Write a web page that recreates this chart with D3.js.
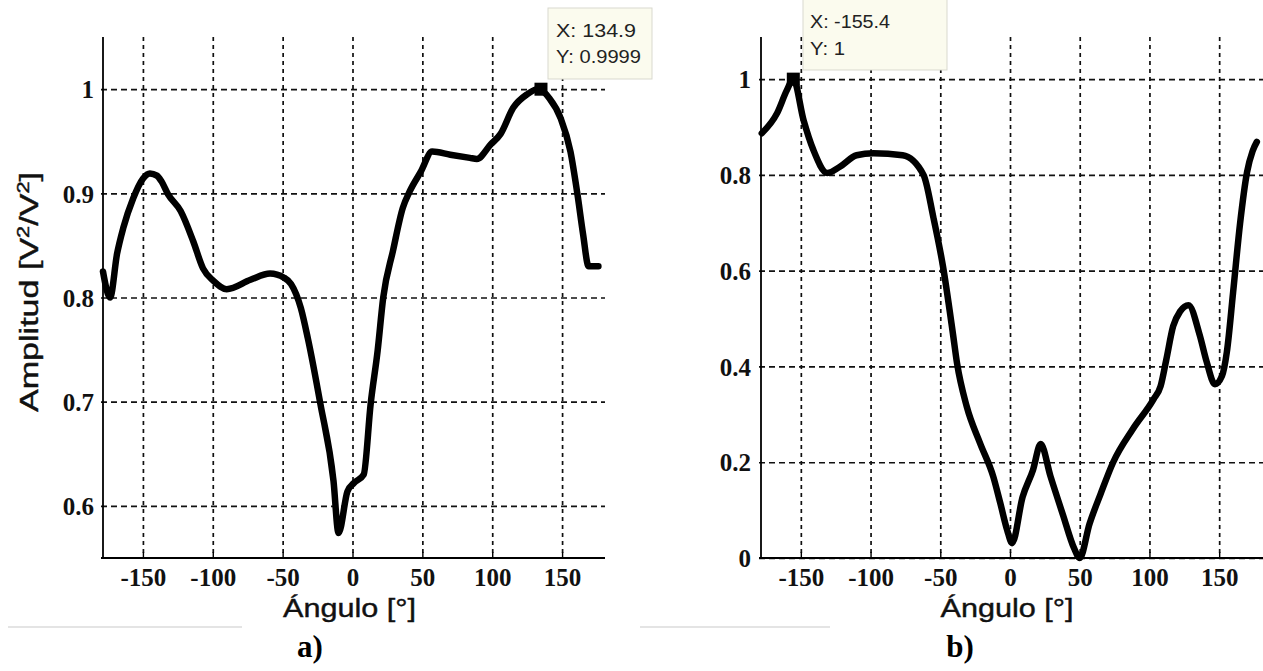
<!DOCTYPE html>
<html><head><meta charset="utf-8">
<script src="https://cdn.jsdelivr.net/npm/d3@7"></script>
<style>body{margin:0;background:#fff}svg{display:block}</style>
</head><body><svg id="c" width="1263" height="671"></svg>
<script>
// ---- data ----
const xTicks = [-150, -100, -50, 0, 50, 100, 150];
const aYTicks = [0.6, 0.7, 0.8, 0.9, 1];
const bYTicks = [0, 0.2, 0.4, 0.6, 0.8, 1];
const aAngles = [-178.6,-173.5,-168.5,-164,-157,-150,-145,-140,-137,-132,-123,-114,-107,-99.5,-90,-73,-59,-49,-44,-37,-32,-23,-13.6,-10,-3.6,1,8,13,18,22,29,36,41,49,57,70,84,89,99,106,115,125,133,141,149,156,161,165,169,176];
const aValues = [0.825,0.80,0.842,0.867,0.895,0.914,0.919,0.917,0.912,0.899,0.883,0.854,0.828,0.816,0.808,0.817,0.823,0.819,0.813,0.79,0.761,0.698,0.624,0.574,0.614,0.622,0.63,0.698,0.749,0.80,0.845,0.886,0.902,0.921,0.94,0.937,0.934,0.933,0.947,0.957,0.982,0.995,1.0,0.991,0.972,0.94,0.899,0.861,0.83,0.83];
const bAngles = [-178,-167,-160,-155.4,-148,-141,-131,-122,-110,-98,-77,-62,-55,-48,-41,-38,-31,-21.5,-12,-7,-2,1.5,9,16.5,22,29,38,46,50,57,65,74,88,103,108,112,117,122,128,136,141,147,152,155.5,160,165,170,174,177];
const bValues = [0.887,0.929,0.977,1.0,0.914,0.852,0.804,0.817,0.841,0.845,0.841,0.80,0.712,0.608,0.47,0.407,0.316,0.24,0.17,0.115,0.058,0.031,0.127,0.184,0.238,0.171,0.09,0.02,0.0,0.071,0.134,0.2,0.269,0.332,0.359,0.413,0.484,0.515,0.528,0.466,0.41,0.363,0.38,0.43,0.555,0.699,0.806,0.85,0.869];
const aTipX = 134.9, aTipY = 0.9999;
const bTipX = -155.4, bTipY = 1;
const aTipLabels = ["X: 134.9", "Y: 0.9999"];
const bTipLabels = ["X: -155.4", "Y: 1"];
const xLabel = "Ángulo [°]";
const panelLabels = ["a)", "b)"];

const svg = d3.select("#c");
svg.append("rect").attr("width",1263).attr("height",671).attr("fill","#fff");
const serif = "'Liberation Serif','Times New Roman',serif";
const sans = "'Liberation Sans',Arial,sans-serif";

function panel(o) {
  const x = d3.scaleLinear().domain([-180,180]).range(o.xr);
  const y = d3.scaleLinear().domain(o.yd).range([558,37]);
  const g = svg.append("g");
  // grid
  const gx = g.append("g").attr("transform","translate(0,37)")
    .call(d3.axisBottom(x).tickValues(xTicks).tickSize(521).tickFormat(""));
  gx.select(".domain").remove();
  gx.selectAll("line").attr("stroke","#111").attr("stroke-width",1.7).attr("stroke-dasharray","4,4");
  const gy = g.append("g").attr("transform",`translate(${o.xr[0]},0)`)
    .call(d3.axisRight(y).tickValues(o.yTicks).tickSize(o.gridEnd - o.xr[0]).tickFormat(""));
  gy.select(".domain").remove();
  gy.selectAll("line").attr("stroke","#111").attr("stroke-width",1.7).attr("stroke-dasharray","6,4");
  // axes
  const ax = g.append("g").attr("transform","translate(0,558)")
    .call(d3.axisBottom(x).tickValues(xTicks).tickSizeInner(-6).tickSizeOuter(0).tickFormat(d => String(d)));
  ax.select(".domain").attr("stroke","#000").attr("stroke-width",1.8)
    .attr("d",`M${o.xr[0]},0H${o.gridEnd}`);
  ax.selectAll("line").attr("stroke","#000").attr("stroke-width",1.4);
  ax.selectAll("text").attr("y",28).attr("dy",0).attr("fill","#111")
    .style("font-family",serif).style("font-weight","bold").style("font-size","25px");
  const ay = g.append("g").attr("transform",`translate(${o.xr[0]+2},0)`)
    .call(d3.axisLeft(y).tickValues(o.yTicks).tickSizeInner(0).tickSizeOuter(0).tickPadding(o.pad).tickFormat(d => String(d)));
  ay.select(".domain").attr("stroke","#000").attr("stroke-width",1.8).attr("d","M0,37V558");
  ay.selectAll("text").attr("dy","0.35em").attr("fill","#111")
    .style("font-family",serif).style("font-weight","bold").style("font-size","25px");
  // line
  const pts = o.ang.map((a,i)=>[a,o.val[i]]);
  g.append("path").datum(pts)
    .attr("d", d3.line().x(d=>x(d[0])).y(d=>y(d[1])).curve(d3.curveMonotoneX))
    .attr("fill","none").attr("stroke","#000").attr("stroke-width",6.5)
    .attr("stroke-linejoin","round").attr("stroke-linecap","round");
  // x label
  g.append("text").attr("x",x(0)-3).attr("y",617).attr("text-anchor","middle")
    .attr("textLength",133).attr("lengthAdjust","spacingAndGlyphs")
    .style("font-family",sans).style("font-size","26px").attr("fill","#111")
    .attr("stroke","#111").attr("stroke-width",0.4)
    .text(xLabel);
  // data tip
  const t = o.tip;
  g.append("rect").attr("x",t.bx).attr("y",t.by).attr("width",t.bw).attr("height",t.bh)
    .attr("fill","#fbfbee").attr("stroke","#d9d9cf").attr("stroke-width",1);
  t.labels.forEach((s,i)=>{
    g.append("text").attr("x",t.tx).attr("y",t.ty[i]).attr("textLength",t.tl[i]).attr("lengthAdjust","spacingAndGlyphs")
      .style("font-family",sans).style("font-size","18px").attr("fill","#222").text(s);
  });
  g.append("rect").attr("x",x(t.x)-6.5).attr("y",y(t.y)-6.5).attr("width",13).attr("height",13).attr("fill","#000");
  // panel label
  g.append("text").attr("x",o.plx).attr("y",657).attr("text-anchor","middle")
    .style("font-family",serif).style("font-weight","bold").style("font-size","31px")
    .attr("fill","#000").text(o.pl);
  // faint scan line
  g.append("line").attr("x1",o.fl[0]).attr("x2",o.fl[1]).attr("y1",627).attr("y2",627).attr("stroke","#e4e4e4").attr("stroke-width",2);
  return {x,y};
}

panel({xr:[101,604], gridEnd:605, yd:[0.55,1.05], yTicks:aYTicks, ang:aAngles, val:aValues, pad:9,
  tip:{x:aTipX,y:aTipY,labels:aTipLabels,bx:548,by:8,bw:104,bh:71,tx:556,ty:[37,63],tl:[80,85]},
  pl:panelLabels[0], plx:310, fl:[8,242]});
panel({xr:[759,1261], gridEnd:1263, yd:[0,1.088], yTicks:bYTicks, ang:bAngles, val:bValues, pad:10,
  tip:{x:bTipX,y:bTipY,labels:bTipLabels,bx:803,by:-1,bw:144,bh:71,tx:810,ty:[28,55],tl:[80,35]},
  pl:panelLabels[1], plx:960, fl:[640,830]});

// y-axis label (left panel)
const yl = svg.append("text").attr("transform","translate(38,292) rotate(-90)").attr("text-anchor","middle")
  .attr("textLength",240).attr("lengthAdjust","spacingAndGlyphs")
  .style("font-family",sans).style("font-size","25px").attr("fill","#111")
  .attr("stroke","#111").attr("stroke-width",0.4);
yl.append("tspan").text("Amplitud [V");
yl.append("tspan").attr("dy",-9).style("font-size","16px").text("2");
yl.append("tspan").attr("dy",9).text("/V");
yl.append("tspan").attr("dy",-9).style("font-size","16px").text("2");
yl.append("tspan").attr("dy",9).text("]");
</script></body></html>
